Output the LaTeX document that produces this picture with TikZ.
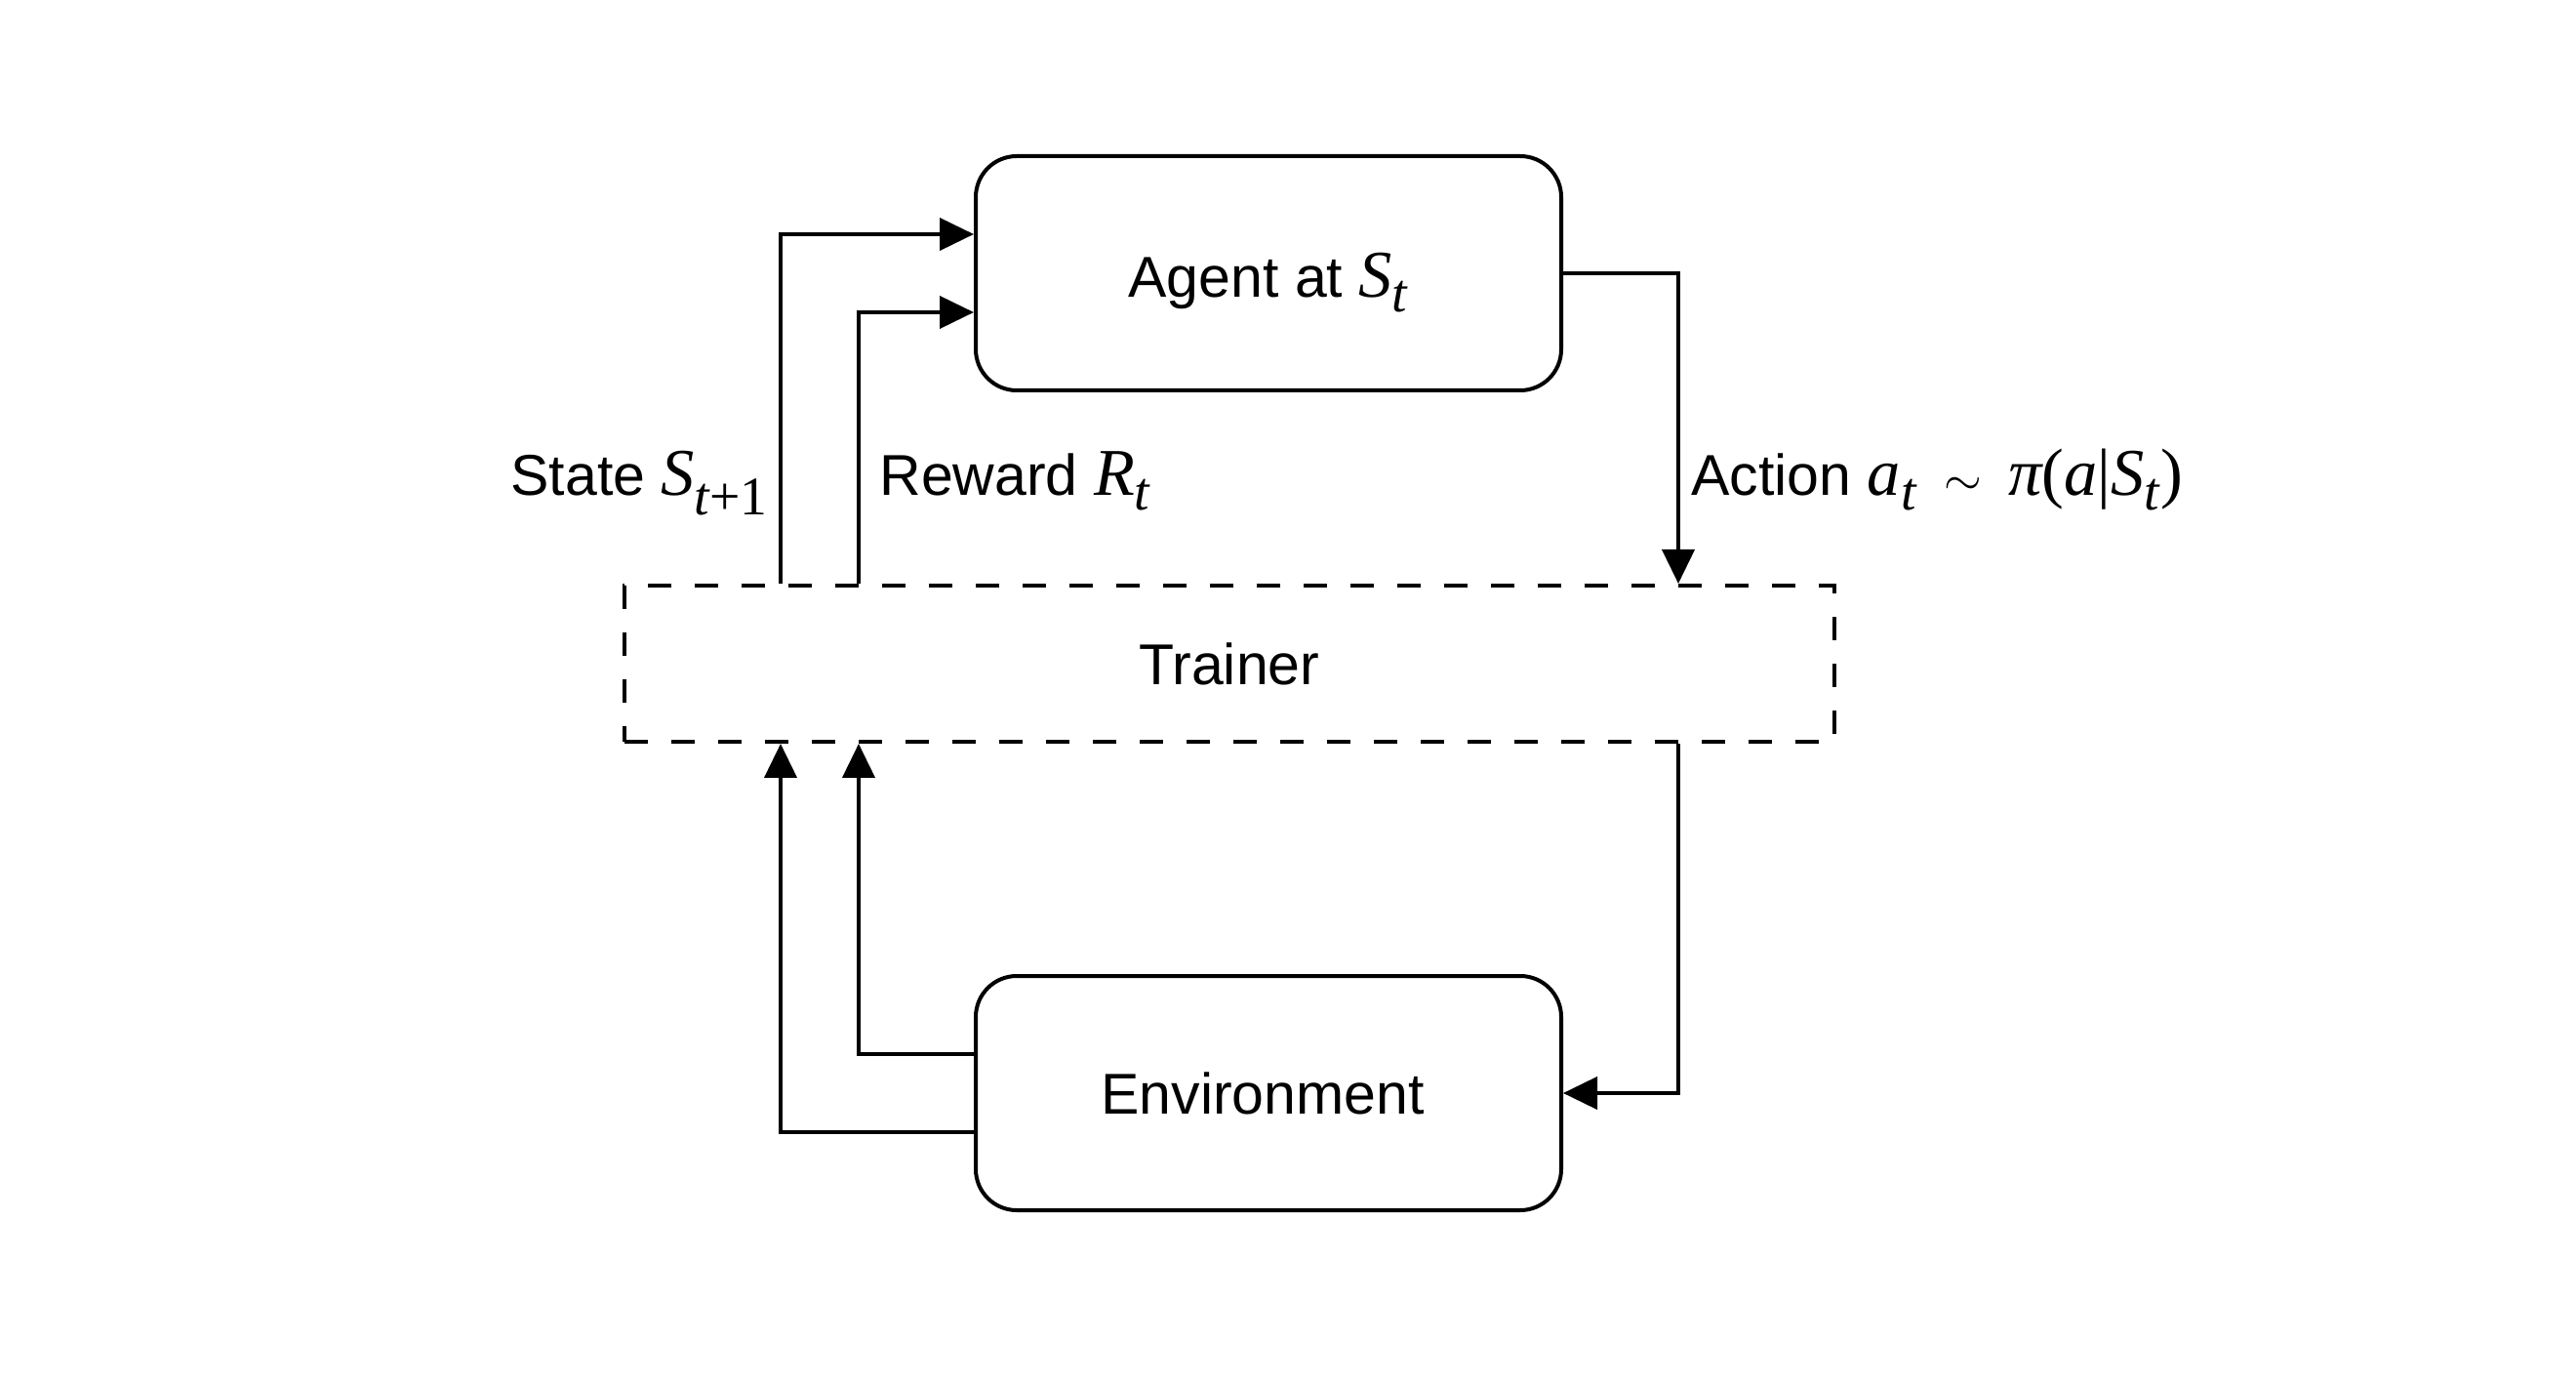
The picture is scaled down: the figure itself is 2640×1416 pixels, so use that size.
\documentclass[tikz,border=0pt]{standalone}
\usepackage{amsmath}
\usepackage{fontspec}
\setsansfont{Liberation Sans}
\newfontfamily\mathserif{Liberation Serif}[Scale=1.16]
\newcommand{\mv}[1]{\text{\mathserif\itshape #1}}
\newcommand{\mr}[1]{\text{\mathserif #1}}
\DeclareMathSizes{29.5}{29.5}{24}{18}
\usetikzlibrary{arrows.meta}
\begin{document}
\begin{tikzpicture}[x=0.5pt,y=-0.5pt,
  every node/.style={font=\sffamily\fontsize{29.5pt}{35pt}\selectfont},
  box/.style={draw, line width=2pt, rounded corners=21pt, minimum width=300pt, minimum height=120pt, inner sep=0pt},
  trainbox/.style={draw, line width=2pt, dash pattern=on 12pt off 12pt, minimum width=620pt, minimum height=80pt, inner sep=0pt},
  arr/.style={line width=2pt, -{Triangle[length=17.5pt,width=16.5pt]}},
  lbl/.style={inner sep=0pt}]
\useasboundingbox (0,0) rectangle (2640,1416);
\node[box, text height=25pt, text depth=0pt] (agent) at (1300,280) {Agent at $\mv{S}_{\mv{t}}$};
\node[box] (env) at (1300,1120) {\hspace*{-6pt}Environment};
\node[trainbox] (trainer) at (1260,680) {Trainer};
\coordinate (sx) at (800,0);
\coordinate (rx) at (880,0);
\coordinate (ax) at (1720,0);
% trainer to agent
\draw[arr] (sx |- trainer.north) |- ([yshift=20pt]agent.west);
\draw[arr] (rx |- trainer.north) |- ([yshift=-20pt]agent.west);
% agent to trainer
\draw[arr] (agent.east) -| (ax |- trainer.north);
% trainer to environment
\draw[arr] (ax |- trainer.south) |- (env.east);
% environment to trainer
\draw[arr] ([yshift=20pt]env.west) -| (rx |- trainer.south);
\draw[arr] ([yshift=-20pt]env.west) -| (sx |- trainer.south);
% labels
\node[lbl, anchor=base east] (lstate) at (788,508) {State $\mv{S}_{\mv{t}\mr{+}\mr{1}}$};
\node[lbl, anchor=base west] (lreward) at (901,508) {Reward $\mv{R}_{\mv{t}}$};
\node[lbl, anchor=base west] (laction) at (1733,508) {Action $\mv{a}_{\mv{t}} \;\sim\; \mv{π}\mr{(}\mv{a}\mr{|}\mv{S}_{\mv{t}}\mr{)}$};
\end{tikzpicture}
\end{document}
